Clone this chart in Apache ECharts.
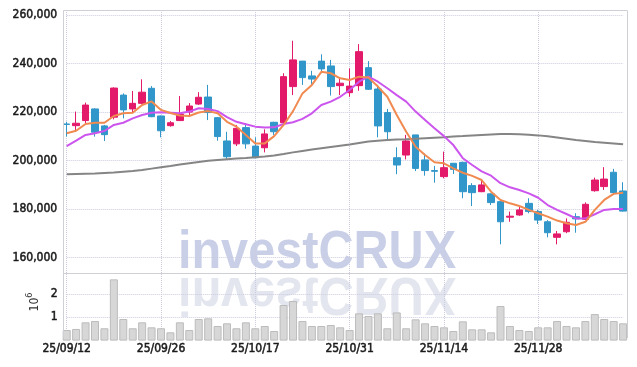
<!DOCTYPE html>
<html><head><meta charset="utf-8">
<script src="https://cdn.jsdelivr.net/npm/echarts@6/dist/echarts.min.js"></script>
<style>html,body{margin:0;padding:0;background:#fff}#c{width:637px;height:367px}</style>
</head><body><div id="c"></div>
<script>
const dates = ['25/09/12','25/09/15','25/09/16','25/09/17','25/09/18','25/09/19','25/09/22','25/09/23','25/09/24','25/09/25',
'25/09/26','25/09/29','25/09/30','25/10/01','25/10/02','25/10/10','25/10/13','25/10/14','25/10/15','25/10/16',
'25/10/17','25/10/20','25/10/21','25/10/22','25/10/23','25/10/24','25/10/27','25/10/28','25/10/29','25/10/30',
'25/10/31','25/11/03','25/11/04','25/11/05','25/11/06','25/11/07','25/11/10','25/11/11','25/11/12','25/11/13',
'25/11/14','25/11/17','25/11/18','25/11/19','25/11/20','25/11/21','25/11/24','25/11/25','25/11/26','25/11/27',
'25/11/28','25/12/01','25/12/02','25/12/03','25/12/04','25/12/05','25/12/08','25/12/09','25/12/10','25/12/11'];
const opens = [215100,214400,216500,221300,214300,217900,227000,221300,223600,229800,
218400,214400,216500,220000,223300,226200,217700,208100,206900,213600,
206000,205300,215800,215600,230500,241000,234900,241000,239000,230900,
228000,230900,238300,229500,219800,201200,202300,210600,200300,195900,
193400,198900,199300,189700,187200,186300,183100,176700,177600,182400,
179000,174800,168400,170700,176900,175800,187600,189300,195200,187500];
const closes = [214900,215400,222900,211700,210700,229900,220900,223600,228200,218100,
212300,215600,219200,222500,226100,219800,209900,201600,213300,206900,
201200,211000,211900,234600,241500,234200,233600,237800,230500,231900,
230700,244900,229400,214300,211900,198200,208100,196800,195900,195600,
197100,196400,187200,186800,190000,182700,174800,177100,179700,179000,
175500,170300,169800,174600,176000,182000,192000,192400,186800,179200];
const lows = [209900,211900,215400,209900,208100,217000,217400,219500,223200,217900,
209600,214000,216300,218400,222900,216700,208200,200700,206000,204900,
201000,203400,210600,215400,227000,231200,231200,236000,226800,227000,
226300,228800,229100,209600,208800,194400,200500,195700,193800,190900,
192700,194500,184500,181300,187000,181700,165500,174800,177300,178300,
173900,168400,165500,170100,170300,175500,187200,187900,186500,179000];
const highs = [216000,220200,223900,221600,214700,230200,227700,228700,233500,230700,
218600,216300,226600,223700,228200,231200,218000,211900,214700,215400,
209600,212900,216000,236000,249400,241000,237000,243800,241500,234000,
238000,248000,241000,231200,221300,205500,210600,210600,203000,197800,
203700,199000,199600,190700,191700,186500,183800,179000,181700,184500,
179700,175500,171000,176200,178300,182800,193000,197300,196600,191100];
const ma5 = [211300,212300,215100,215600,215600,218400,219500,219700,222900,224400,
220900,219600,218600,218400,219800,220400,219500,216000,214000,210600,
207100,207100,210100,214700,220400,227700,231200,236600,236000,233900,
233200,234600,234200,230500,226300,218800,211900,205700,202300,199300,
198900,196800,195000,193700,192000,187200,183800,182400,181300,179700,
178300,176900,175300,174200,173500,174800,179700,183800,186300,186800];
const ma10 = [206000,208200,210600,211300,212200,214700,215600,217400,218800,219700,
219900,219700,219500,220200,221600,221300,220400,217900,216000,215000,
214000,213600,213700,215100,215800,217200,219500,222900,224300,226300,
229100,232500,234600,232500,229800,227000,224300,220200,216700,213300,
210100,206400,201000,198200,195600,193800,190700,189000,187900,186500,
184700,181700,179700,178000,176200,176200,177900,179700,180100,180100];
const ma60 = [194400,194500,194600,194700,194900,195100,195400,195700,196100,196700,
197300,197800,198400,198900,199400,199900,200300,200600,200900,201100,
201400,201700,202100,202700,203400,204000,204600,205100,205600,206100,
206600,207300,207900,208200,208500,208700,208800,209000,209200,209400,
209600,209900,210100,210400,210600,210800,211000,211000,210900,210700,
210400,210000,209500,209000,208500,208100,207700,207400,207100,206700];
const volumes = [455000,500000,785000,840000,530000,2630000,927000,530000,785000,570000,
530000,356000,785000,455000,927000,957000,627000,742000,530000,785000,
530000,627000,412000,1530000,1700000,840000,627000,627000,670000,570000,
455000,1170000,1056000,1170000,530000,1210000,530000,913000,742000,627000,
570000,412000,828000,485000,485000,356000,1485000,627000,455000,412000,
570000,570000,840000,627000,570000,840000,1140000,927000,840000,742000];
const priceTicks = [160000, 260000, 20000];
const volTicks = [0, 2890000, 1000000];

const candle = dates.map((d, i) => [opens[i], closes[i], lows[i], highs[i]]);
const FONT = '"DejaVu Sans Condensed", "DejaVu Sans", sans-serif';
const GRID_COLOR = '#cbcce0';
const L = 66.7, R = 13.9;
const fmt = v => String(v).replace(/\B(?=(\d{3})+(?!\d))/g, ',');
const labelStyle = {color: '#1a1a1a', fontFamily: FONT, fontSize: 12, textBorderColor: '#1a1a1a', textBorderWidth: 0.5};

const chart = echarts.init(document.getElementById('c'), null, {renderer: 'canvas'});
const wmStyle = {text: 'investCRUX', font: 'bold 54px "Liberation Sans", Arial, sans-serif', align: 'center', verticalAlign: 'top', x: 0, y: 0};
chart.setOption({
  animation: false,
  backgroundColor: '#fff',
  grid: [
    {left: L, right: R, top: 15, height: 242.7},
    {left: L, right: R, top: 273.3, height: 67.3},
    {left: L, right: R, top: 10, bottom: 29}
  ],
  xAxis: [
    {type: 'category', gridIndex: 0, data: dates, boundaryGap: false, axisLine: {show: false}, axisTick: {show: false}, axisLabel: {show: false}, splitLine: {show: false}},
    {type: 'category', gridIndex: 1, data: dates, boundaryGap: false, axisLine: {show: false}, axisTick: {show: false}, axisLabel: {show: false}, splitLine: {show: false}},
    {type: 'category', gridIndex: 2, data: dates, boundaryGap: false, axisLine: {show: false}, axisTick: {show: false},
      axisLabel: Object.assign({show: true, interval: i => i % 10 === 0, margin: 5}, labelStyle),
      splitLine: {show: true, interval: i => i % 10 === 0, lineStyle: {type: 'dotted', color: GRID_COLOR, width: 1}}}
  ],
  yAxis: [
    {type: 'value', gridIndex: 0, min: priceTicks[0], max: priceTicks[1], interval: priceTicks[2], axisLine: {show: false}, axisTick: {show: false},
      axisLabel: Object.assign({margin: 9.5, formatter: v => fmt(v)}, labelStyle),
      splitLine: {lineStyle: {type: 'dotted', color: GRID_COLOR, width: 1}}},
    {type: 'value', gridIndex: 1, min: volTicks[0], max: volTicks[1], interval: volTicks[2], axisLine: {show: false}, axisTick: {show: false},
      axisLabel: Object.assign({margin: 9, formatter: v => (v > 0 && v % 1000000 === 0) ? String(v / 1000000) : ''}, labelStyle),
      splitLine: {showMinLine: false, showMaxLine: false, lineStyle: {type: 'dotted', color: GRID_COLOR, width: 1}}},
    {type: 'value', gridIndex: 2, show: false, splitLine: {show: false}}
  ],
  series: [
    {type: 'candlestick', xAxisIndex: 0, yAxisIndex: 0, data: candle, barWidth: 7, clip: false,
      itemStyle: {color: '#e3196a', color0: '#3196c9', borderColor: '#e3196a', borderColor0: '#3196c9', borderWidth: 1}},
    {type: 'line', xAxisIndex: 0, yAxisIndex: 0, data: ma60, symbol: 'none', lineStyle: {color: '#858585', width: 2}, z: 3},
    {type: 'line', xAxisIndex: 0, yAxisIndex: 0, data: ma10, symbol: 'none', lineStyle: {color: '#cc55ee', width: 2}, z: 3},
    {type: 'line', xAxisIndex: 0, yAxisIndex: 0, data: ma5, symbol: 'none', lineStyle: {color: '#f08a50', width: 2}, z: 3},
    {type: 'bar', xAxisIndex: 1, yAxisIndex: 1, data: volumes, barWidth: 8, clip: false,
      itemStyle: {color: '#d7d7d7', borderColor: '#bcbcbc', borderWidth: 1}}
  ],
  graphic: [
    {type: 'text', x: 317, y: 226.5, scaleX: 0.9, z: -1, silent: true, style: Object.assign({}, wmStyle, {fill: '#c9cfe7'})},
    {type: 'text', x: 317, y: 319.5, scaleX: 0.9, scaleY: -1, z: -1, silent: true, style: Object.assign({}, wmStyle, {fill: '#e4e6ef'})},
    {type: 'polyline', z: 10, silent: true, shape: {points: [[63.5, 338], [63.5, 10.5], [627.5, 10.5], [627.5, 338]]}, style: {stroke: '#cfcfd6', lineWidth: 1, fill: null}},
    {type: 'line', z: 10, silent: true, shape: {x1: 63.5, y1: 273.5, x2: 627.5, y2: 273.5}, style: {stroke: '#cfcfd6', lineWidth: 1}},
    {type: 'text', x: 33, y: 302, rotation: Math.PI / 2, silent: true,
      style: {text: '{a|10}{b|6}', align: 'center', verticalAlign: 'middle',
        rich: {a: {fontFamily: FONT, fontSize: 12, fill: '#333', color: '#333', verticalAlign: 'bottom', lineHeight: 16},
               b: {fontFamily: FONT, fontSize: 9, fill: '#333', color: '#333', verticalAlign: 'top', lineHeight: 16}}}}
  ]
});
</script></body></html>
